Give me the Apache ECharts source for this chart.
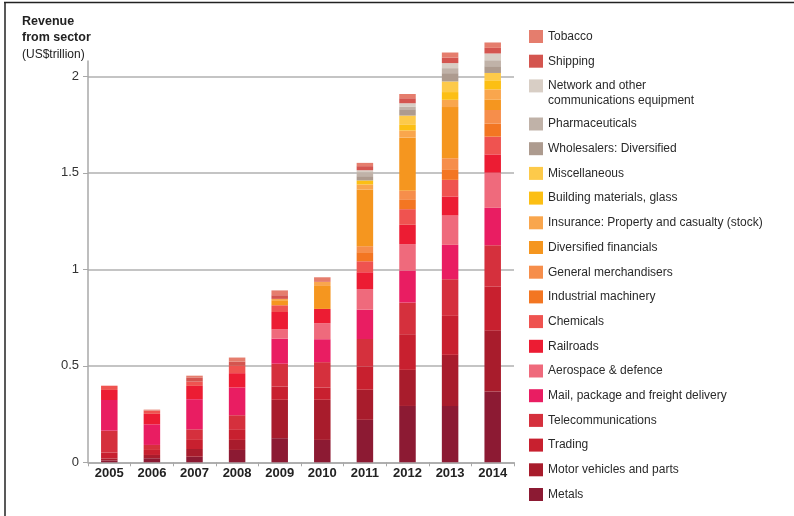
<!DOCTYPE html>
<html>
<head>
<meta charset="UTF-8" />
<title>Revenue from sector</title>
<script src="https://cdn.jsdelivr.net/npm/echarts@6/dist/echarts.min.js"></script>
<style>
  html, body { margin: 0; padding: 0; background: #fff; }
  #main { width: 794px; height: 516px; }
</style>
</head>
<body>
<div id="main"></div>
<script>
// years on the x axis
var years = ['2005', '2006', '2007', '2008', '2009', '2010', '2011', '2012', '2013', '2014'];
var yTicks = [0, 0.5, 1, 1.5, 2];

// revenue per sector, US$ trillion, bottom of stack first
var metals       = [0.010, 0.021, 0.029, 0.064, 0.125, 0.116, 0.220, 0.292, 0.292, 0.367];
var motor        = [0.010, 0.017, 0.040, 0.052, 0.199, 0.208, 0.156, 0.187, 0.265, 0.317];
var trading      = [0.030, 0.026, 0.047, 0.052, 0.069, 0.064, 0.121, 0.185, 0.202, 0.228];
var telecom      = [0.114, 0.026, 0.055, 0.076, 0.118, 0.131, 0.142, 0.164, 0.190, 0.213];
var mail         = [0.159, 0.107, 0.156, 0.144, 0.130, 0.119, 0.152, 0.166, 0.178, 0.194];
var aerospace    = [0, 0, 0, 0, 0.048, 0.083, 0.107, 0.137, 0.152, 0.182];
var railroads    = [0.052, 0.054, 0.069, 0.074, 0.090, 0.074, 0.087, 0.100, 0.099, 0.095];
var chemicals    = [0.022, 0.017, 0.022, 0.038, 0.035, 0, 0.057, 0.081, 0.086, 0.092];
var industrial   = [0, 0, 0, 0, 0, 0, 0.047, 0.048, 0.055, 0.067];
var merchandise  = [0, 0, 0, 0, 0, 0, 0.031, 0.047, 0.057, 0.071];
var diversified  = [0, 0, 0, 0, 0.026, 0.119, 0.294, 0.277, 0.265, 0.055];
var insurance    = [0, 0, 0, 0, 0.007, 0.021, 0.026, 0.036, 0.038, 0.052];
var building     = [0, 0, 0, 0, 0, 0, 0.021, 0.029, 0.040, 0.047];
var misc         = [0, 0, 0, 0, 0, 0, 0, 0.048, 0.055, 0.038];
var wholesalers  = [0, 0, 0, 0, 0, 0, 0.022, 0.033, 0.043, 0.035];
var pharma       = [0, 0, 0, 0, 0, 0, 0.021, 0.014, 0.026, 0.031];
var network      = [0, 0, 0, 0, 0, 0, 0.010, 0.017, 0.026, 0.035];
var shipping     = [0, 0, 0.022, 0.022, 0.019, 0, 0.021, 0.026, 0.029, 0.029];
var tobacco      = [0, 0.005, 0.009, 0.021, 0.025, 0.024, 0.017, 0.022, 0.026, 0.028];

var NET = 'Network and other communications equipment';

var sectors = [
  ['Metals', metals, '#8c1a33'],
  ['Motor vehicles and parts', motor, '#a81c2c'],
  ['Trading', trading, '#c8202f'],
  ['Telecommunications', telecom, '#d5303d'],
  ['Mail, package and freight delivery', mail, '#e91d62'],
  ['Aerospace & defence', aerospace, '#ef6a7c'],
  ['Railroads', railroads, '#ec1c33'],
  ['Chemicals', chemicals, '#ef5350'],
  ['Industrial machinery', industrial, '#f37622'],
  ['General merchandisers', merchandise, '#f68e4b'],
  ['Diversified financials', diversified, '#f5961f'],
  ['Insurance: Property and casualty (stock)', insurance, '#f9a64d'],
  ['Building materials, glass', building, '#fcbf14'],
  ['Miscellaneous', misc, '#fdca4a'],
  ['Wholesalers: Diversified', wholesalers, '#ad9b8f'],
  ['Pharmaceuticals', pharma, '#c0b2a8'],
  [NET, network, '#d8cec5'],
  ['Shipping', shipping, '#d4554f'],
  ['Tobacco', tobacco, '#e57d6d']
];

var font = "'Liberation Sans', Arial, sans-serif";

var series = sectors.map(function (s) {
  return {
    name: s[0],
    type: 'bar',
    stack: 'rev',
    barWidth: 16.5,
    clip: false,
    itemStyle: { color: s[2] },
    data: s[1]
  };
});

var names = sectors.map(function (s) { return s[0]; }).reverse();
var legendStyle = {
  orient: 'vertical',
  left: 529,
  padding: 0,
  itemWidth: 14,
  itemHeight: 13,
  itemGap: 10.7,
  icon: 'rect',
  selectedMode: false,
  textStyle: { fontFamily: font, fontSize: 12, color: '#2a2a2a', lineHeight: 14 },
  formatter: function (n) { return n === NET ? 'Network and other' : n; }
};

var chart = echarts.init(document.getElementById('main'));
chart.setOption({
  animation: false,
  title: {
    left: 22,
    top: 13,
    padding: 0,
    text: '{b|Revenue}\n{b|from sector}\n{n|(US$trillion)}',
    textStyle: {
      fontWeight: 'normal',
      rich: {
        b: { fontFamily: font, fontSize: 12.5, fontWeight: 'bold', color: '#222', lineHeight: 16.5 },
        n: { fontFamily: font, fontSize: 12, fontWeight: 'normal', color: '#222', lineHeight: 16.5 }
      }
    }
  },
  legend: [
    Object.assign({}, legendStyle, { top: 29.5, data: names.slice(0, 3) }),
    Object.assign({}, legendStyle, { top: 117, data: names.slice(3) })
  ],
  grid: { left: 88, top: 61, width: 426, height: 401.3 },
  xAxis: {
    type: 'category',
    data: years,
    axisLine: { lineStyle: { color: '#a8a8a8', width: 1.5 } },
    axisTick: { show: true, length: 4, lineStyle: { color: '#a8a8a8' } },
    axisLabel: { margin: 5, fontFamily: font, fontSize: 13, fontWeight: 'bold', color: '#222' }
  },
  yAxis: {
    type: 'value',
    min: 0,
    max: 2.08,
    interval: 0.5,
    axisLine: { show: true, lineStyle: { color: '#a8a8a8', width: 1.5 } },
    axisTick: { show: true, length: 5, customValues: yTicks, lineStyle: { color: '#a8a8a8' } },
    axisLabel: {
      margin: 9, fontFamily: font, fontSize: 13, color: '#333',
      customValues: yTicks
    },
    splitLine: { lineStyle: { color: '#b0b0b0', width: 1.5 } }
  },
  graphic: [
    { type: 'text', left: 548, top: 94.5,
      style: { text: 'communications equipment', font: '12px ' + font, fill: '#2a2a2a' } },
    { type: 'line', shape: { x1: 5, y1: 2, x2: 5, y2: 516 }, style: { stroke: '#222', lineWidth: 1.5 } },
    { type: 'line', shape: { x1: 4, y1: 2.5, x2: 794, y2: 2.5 }, style: { stroke: '#222', lineWidth: 1.5 } }
  ],
  series: series
});
</script>
</body>
</html>
